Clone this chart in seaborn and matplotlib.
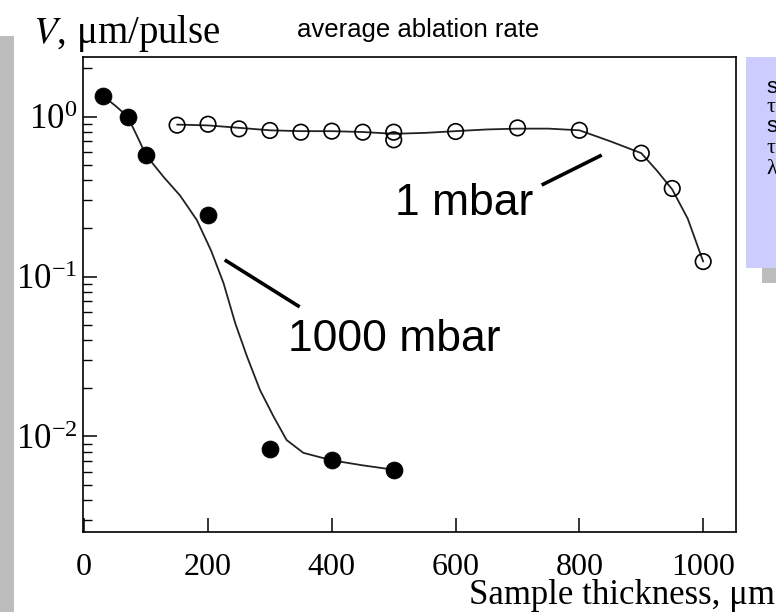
import numpy as np
import pandas as pd
import matplotlib
matplotlib.use("Agg")
import matplotlib.pyplot as plt
import seaborn as sns
from matplotlib.patches import Rectangle
from matplotlib.ticker import LogLocator, FixedLocator, NullLocator

# ---------------- data ----------------
thick_1000 = [30, 70, 100, 200, 300, 400, 500]
rate_1000 = [1.35, 1.0, 0.576, 0.243, 0.0084, 0.0071, 0.0062]

thick_1 = [150, 200, 250, 300, 350, 400, 450, 500, 500, 600, 700, 800, 900, 950, 1000]
rate_1 = [0.883, 0.895, 0.837, 0.818, 0.798, 0.81, 0.798, 0.798, 0.715, 0.806,
          0.849, 0.82, 0.59, 0.355, 0.124]

fit_x_1000 = [30, 50, 70, 85, 100, 128, 155, 182, 205, 225, 244, 263, 284, 306,
              327, 354, 400, 450, 500]
fit_y_1000 = [1.35, 1.17, 1.0, 0.76, 0.572, 0.42, 0.32, 0.225, 0.145, 0.091, 0.051,
              0.0316, 0.0195, 0.0133, 0.0095, 0.0079, 0.0071, 0.0066, 0.0062]

fit_x_1 = [150, 200, 250, 300, 350, 400, 450, 500, 550, 600, 650, 700, 750, 800,
           850, 900, 925, 950, 975, 1000]
fit_y_1 = [0.89, 0.88, 0.85, 0.82, 0.81, 0.81, 0.80, 0.78, 0.79, 0.81, 0.83, 0.84,
           0.84, 0.82, 0.70, 0.59, 0.46, 0.35, 0.23, 0.124]

x_ticks = [0, 200, 400, 600, 800, 1000]
title = "average ablation rate"
y_label = "$V$, μm/pulse"
x_label = "Sample thickness, μm"
label_1000 = "1000 mbar"
label_1 = "1 mbar"
box_lines = ["s", "τ", "s", "τ", "λ"]

# ---------------- style ----------------
sns.set_theme(style="white")
plt.rcParams["font.family"] = ["Liberation Serif", "DejaVu Serif"]
plt.rcParams["mathtext.fontset"] = "stix"

W, H = 776, 612
fig = plt.figure(figsize=(W / 100, H / 100), dpi=100)
fig.patch.set_facecolor("white")

def fx(px):
    return px / W

def fy(py):
    return 1 - py / H

# decorations: grey strip at left, lavender box at right
fig.patches.append(Rectangle((0, 0), fx(14), fy(36), transform=fig.transFigure,
                             facecolor="#bdbdbd", edgecolor="none", zorder=0))
fig.patches.append(Rectangle((fx(762), fy(283)), fx(20), fy(262) - fy(283),
                             transform=fig.transFigure, facecolor="#bdbdbd",
                             edgecolor="none", zorder=0))
fig.patches.append(Rectangle((fx(746), fy(268)), fx(40), fy(57) - fy(268),
                             transform=fig.transFigure, facecolor="#ccccff",
                             edgecolor="none", zorder=1))

left, right, top, bottom = 83, 736, 57, 532
ax = fig.add_axes([fx(left), fy(bottom), fx(right - left), fy(top) - fy(bottom)])
ax.set_facecolor("white")

df_fit1000 = pd.DataFrame({"x": fit_x_1000, "y": fit_y_1000})
df_fit1 = pd.DataFrame({"x": fit_x_1, "y": fit_y_1})
df_1000 = pd.DataFrame({"x": thick_1000, "y": rate_1000})
df_1 = pd.DataFrame({"x": thick_1, "y": rate_1})

sns.lineplot(data=df_fit1000, x="x", y="y", ax=ax, color="#222222", lw=1.3,
             estimator=None, sort=False, zorder=2)
sns.lineplot(data=df_fit1, x="x", y="y", ax=ax, color="#222222", lw=1.3,
             estimator=None, sort=False, zorder=2)
sns.scatterplot(data=df_1000, x="x", y="y", ax=ax, color="black", s=150,
                edgecolor="black", linewidth=0.5, zorder=3)
sns.scatterplot(data=df_1, x="x", y="y", ax=ax, facecolor="none", s=125,
                edgecolor="black", linewidth=1.2, zorder=3)

ax.set_yscale("log")
ax.set_xlim(-2, 1053)
ax.set_ylim(10 ** -2.597, 10 ** 0.372)
ax.xaxis.set_major_locator(FixedLocator(x_ticks))
ax.xaxis.set_minor_locator(NullLocator())
ax.yaxis.set_major_locator(LogLocator(base=10))
ax.yaxis.set_minor_locator(LogLocator(base=10, subs=np.arange(2, 10)))
ax.set_xlabel("")
ax.set_ylabel("")

for s in ax.spines.values():
    s.set_visible(True)
    s.set_color("black")
    s.set_linewidth(1.2)

ax.tick_params(axis="both", which="both", direction="in", colors="black",
               left=True, bottom=True, top=False, right=False)
ax.tick_params(axis="both", which="major", length=10, width=1.1, labelsize=25)
ax.tick_params(axis="x", which="major", labelsize=23, pad=15)
ax.tick_params(axis="y", which="minor", length=6.5, width=1.0)
ax.tick_params(axis="y", which="major", pad=4)

# annotations
ax.text(330, 0.034, label_1000, fontsize=32, family="Liberation Sans",
        ha="left", va="baseline", color="black")
ax.plot([227, 348], [0.127, 0.0646], color="black", lw=2.6, solid_capstyle="butt")
ax.text(502, 10 ** -0.616, label_1, fontsize=32, family="Liberation Sans",
        ha="left", va="baseline", color="black")
ax.plot([739, 836], [0.373, 0.574], color="black", lw=2.6, solid_capstyle="butt")

# figure texts
fig.text(fx(297), fy(37), title, fontsize=18.5, family="Liberation Sans",
         ha="left", va="baseline", color="black")
fig.text(fx(33), fy(43), y_label, fontsize=28, ha="left", va="baseline",
         color="black")
fig.text(fx(775), fy(604), x_label, fontsize=25, ha="right", va="baseline",
         color="black")
ys = [93, 112, 132, 153, 174]
for t, yy in zip(box_lines, ys):
    fam = "Liberation Sans" if t == "s" else "Liberation Serif"
    fig.text(fx(766), fy(yy), t, fontsize=16, family=fam, ha="left",
             va="baseline", color="black")

fig.savefig("out.png", dpi=100)
